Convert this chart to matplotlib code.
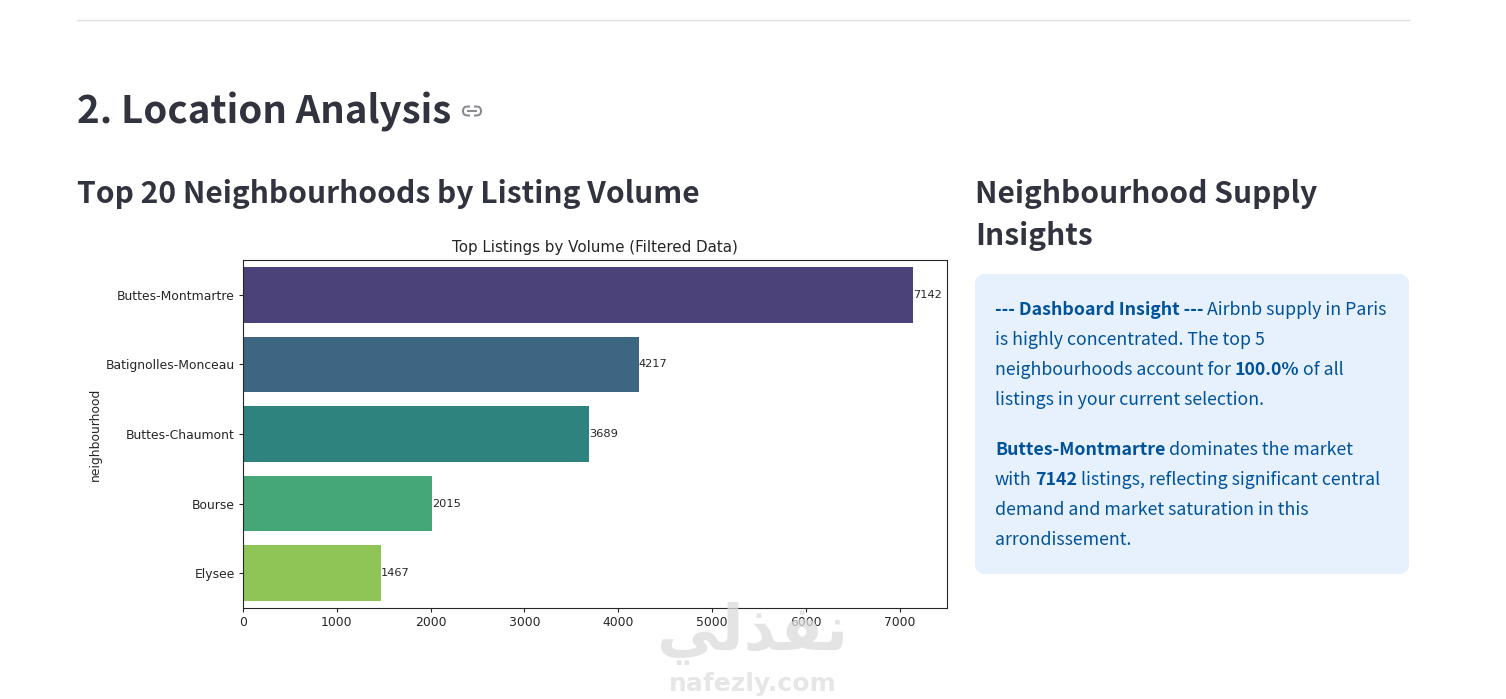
import matplotlib
matplotlib.use("Agg")
import matplotlib.pyplot as plt
from matplotlib.patches import FancyBboxPatch, Rectangle
import seaborn as sns

# donnees
neighbourhoods = ["Buttes-Montmartre", "Batignolles-Monceau", "Buttes-Chaumont", "Bourse", "Elysee"]
listings = [7142, 4217, 3689, 2015, 1467]
x_ticks = [0, 1000, 2000, 3000, 4000, 5000, 6000, 7000]

page_title = "2. Location Analysis"
left_heading = "Top 20 Neighbourhoods by Listing Volume"
right_heading = ["Neighbourhood Supply", "Insights"]
chart_title = "Top Listings by Volume (Filtered Data)"
insight_lines = [
    (315, [("--- Dashboard Insight ---", True), ("Airbnb supply in Paris", False)]),
    (345, [("is highly concentrated. The top 5", False)]),
    (375, [("neighbourhoods account for", False), ("100.0%", True), ("of all", False)]),
    (405, [("listings in your current selection.", False)]),
    (455, [("Buttes-Montmartre", True), ("dominates the market", False)]),
    (485, [("with", False), ("7142", True), ("listings, reflecting significant central", False)]),
    (515, [("demand and market saturation in this", False)]),
    (545, [("arrondissement.", False)]),
]
# formes de presentation, dans l'ordre d'affichage (pas de shaping dans matplotlib)
watermark_ar = "\ufef2\ufedf\ufeac\ufed4\ufee7"
watermark_en = "nafezly.com"

W, H = 1506, 699
UI_FONT = ["Noto Sans CJK SC", "DejaVu Sans"]
DARK = "#31333f"
BLUE = "#00529b"
INK = "#262626"

fig = plt.figure(figsize=(W / 100, H / 100), dpi=100, facecolor="white")

# calque de la page, en pixels
page = fig.add_axes([0, 0, 1, 1], zorder=0)
page.set_xlim(0, W)
page.set_ylim(H, 0)
page.axis("off")

page.plot([77, 1409], [20, 20], color="#dfe0e3", lw=1)
page.text(77, 123.5, page_title, fontsize=27.7, fontweight="bold", color=DARK, family=UI_FONT)
page.text(77, 203, left_heading, fontsize=21.6, fontweight="bold", color=DARK, family=UI_FONT)
page.text(975, 203, right_heading[0], fontsize=21.6, fontweight="bold", color=DARK, family=UI_FONT)
page.text(975, 245, right_heading[1], fontsize=21.6, fontweight="bold", color=DARK, family=UI_FONT)

# icone de lien
page.add_patch(FancyBboxPatch((463, 106.5), 18, 9, boxstyle="round,pad=0,rounding_size=4.5",
                              fc="none", ec="#85868e", lw=1.4))
page.add_patch(Rectangle((470, 103), 4, 16, fc="white", ec="none", zorder=3))
page.plot([468, 476], [111, 111], color="#85868e", lw=1.4, zorder=4)

# encadre bleu
page.add_patch(FancyBboxPatch((983, 282), 418, 284, boxstyle="round,pad=8,rounding_size=10",
                              fc="#e7f1fd", ec="none"))

fig.canvas.draw()
renderer = fig.canvas.get_renderer()
for baseline, runs in insight_lines:
    x = 995
    for label, bold in runs:
        t = page.text(x, baseline, label, fontsize=12.8, color=BLUE, family=UI_FONT,
                      fontweight="bold" if bold else "normal")
        x += t.get_window_extent(renderer).width + 3.5

# graphique
ax = fig.add_axes([243 / W, 1 - 608 / H, (946.5 - 243) / W, (608 - 260) / H], zorder=1)
sns.barplot(x=listings, y=neighbourhoods, hue=neighbourhoods, palette="viridis", legend=False, ax=ax)
for container in ax.containers:
    ax.bar_label(container, fontsize=8.2, padding=0, color=INK)

ax.set_xlim(0, max(listings) * 1.05)
ax.set_xticks(x_ticks)
ax.tick_params(labelsize=8.9, length=3, width=0.8, pad=3, color=INK, labelcolor=INK)
ax.set_title(chart_title, fontsize=10.9, pad=5.5, color=INK)
ax.set_ylabel("neighbourhood", fontsize=8.9, labelpad=2.5, color=INK)
ax.set_xlabel("")
for spine in ax.spines.values():
    spine.set_color(INK)

# filigrane
fig.text(753 / W, 1 - 650 / H, watermark_ar, fontsize=45, fontweight="bold", color="#dcdcdc", alpha=0.75,
         ha="center", va="baseline", family="DejaVu Sans", zorder=5)
fig.text(753 / W, 1 - 691 / H, watermark_en, fontsize=18, fontweight="bold", color="#e2e2e2", alpha=0.85,
         ha="center", va="baseline", family="DejaVu Sans", zorder=5)

fig.savefig("out.png", dpi=100)
plt.close(fig)
